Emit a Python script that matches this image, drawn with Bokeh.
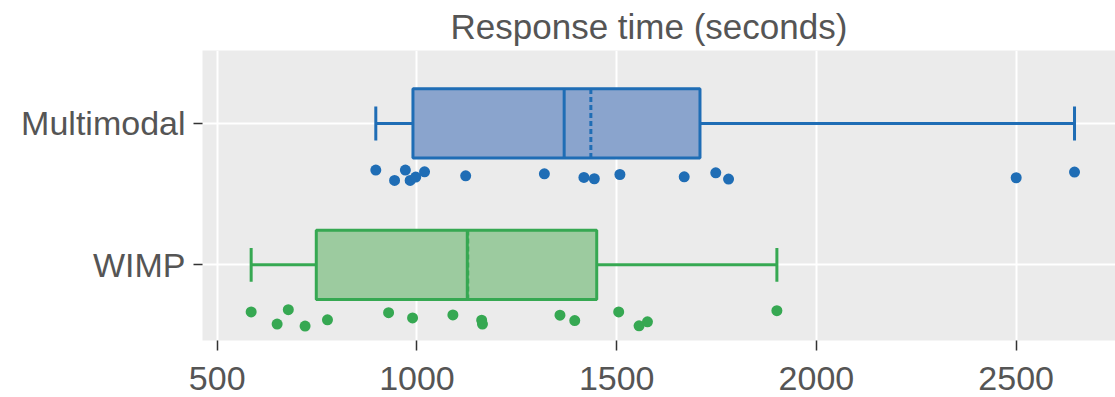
import numpy as np
from bokeh.plotting import figure
from bokeh.models import FixedTicker
from bokeh.embed import file_html
from bokeh.resources import INLINE

# ---------------- data ----------------
categories = ["WIMP", "Multimodal"]
multimodal_times = [897, 944, 971, 983, 997, 1019, 1122, 1319, 1418, 1444,
                    1508, 1669, 1748, 1780, 2500, 2646]
# vertical jitter of each point below its box (category units)
multimodal_jitter = [0.330, 0.403, 0.330, 0.403, 0.379, 0.342, 0.370, 0.356,
                     0.382, 0.391, 0.361, 0.377, 0.349, 0.393, 0.384, 0.344]
wimp_times = [585, 650, 678, 720, 776, 929, 989, 1090, 1162, 1164,
              1358, 1395, 1505, 1556, 1577, 1901]
wimp_jitter = [0.333, 0.419, 0.317, 0.433, 0.389, 0.338, 0.375, 0.354,
               0.391, 0.419, 0.356, 0.394, 0.333, 0.431, 0.403, 0.324]
x_ticks = [500, 1000, 1500, 2000, 2500]
title_text = "Response time (seconds)"

# ---------------- styles ----------------
FONT = "Liberation Sans"
TEXT_COLOR = "#555555"
series = [
    dict(name="WIMP", vals=wimp_times, jit=wimp_jitter,
         line="#36a852", fill="#9ccb9f"),
    dict(name="Multimodal", vals=multimodal_times, jit=multimodal_jitter,
         line="#1f6db5", fill="#8aa4cd"),
]
BOX_HALF = 0.245
CAP_HALF = 0.12


def box_stats(vals):
    v = sorted(vals)
    n = len(v)
    half = n // 2
    lower = v[:half]
    upper = v[half + n % 2:]
    med = float(np.median(v))
    q1 = float(np.median(lower))
    q3 = float(np.median(upper))
    iqr = q3 - q1
    lo = min(x for x in v if x >= q1 - 1.5 * iqr)
    hi = max(x for x in v if x <= q3 + 1.5 * iqr)
    return q1, med, q3, lo, hi, float(np.mean(v))


p = figure(width=1115, height=397, x_range=(463.2, 2748.6), y_range=(-0.535, 1.516),
           output_backend="svg", toolbar_location=None,
           min_border_left=202, min_border_right=0, min_border_top=46,
           min_border_bottom=57)

p.title.text = title_text
p.title.align = "left"
p.title.offset = 248
p.title.text_font = FONT
p.title.text_font_size = "35px"
p.title.text_font_style = "normal"
p.title.text_color = TEXT_COLOR
p.title.standoff = 9

p.background_fill_color = "#ebebeb"
p.border_fill_color = "white"
p.outline_line_color = None

for g in (p.xgrid, p.ygrid):
    g.grid_line_color = "white"
    g.grid_line_width = 2

p.xaxis.ticker = FixedTicker(ticks=x_ticks)
p.yaxis.ticker = FixedTicker(ticks=list(range(len(categories))))
p.yaxis.major_label_overrides = {i: c for i, c in enumerate(categories)}

for ax in (p.xaxis, p.yaxis):
    ax.axis_line_color = None
    ax.major_tick_line_color = "#333333"
    ax.major_tick_line_width = 1.5
    ax.minor_tick_line_color = None
    ax.major_tick_in = 0
    ax.major_label_text_font = FONT
    ax.major_label_text_color = TEXT_COLOR
p.xaxis.major_tick_out = 10
p.xaxis.major_label_standoff = 16
p.xaxis.major_label_text_line_height = 0.8
p.xaxis.major_label_text_font_size = "34px"
p.yaxis.major_tick_out = 9
p.yaxis.major_label_standoff = 8
p.yaxis.major_label_text_font_size = "34px"

for i, s in enumerate(series):
    q1, med, q3, lo, hi, mean = box_stats(s["vals"])
    y = i
    # whiskers
    p.segment(x0=[lo, q3], y0=[y, y], x1=[q1, hi], y1=[y, y],
              line_color=s["line"], line_width=3)
    p.segment(x0=[lo, hi], y0=[y - CAP_HALF] * 2, x1=[lo, hi], y1=[y + CAP_HALF] * 2,
              line_color=s["line"], line_width=3)
    # box
    p.hbar(y=[y], height=2 * BOX_HALF, left=[q1], right=[q3],
           fill_color=s["fill"], line_color=s["line"], line_width=3)
    # median
    p.segment(x0=[med], y0=[y - BOX_HALF], x1=[med], y1=[y + BOX_HALF],
              line_color=s["line"], line_width=3)
    # mean (dashed)
    p.segment(x0=[mean], y0=[y - BOX_HALF], x1=[mean], y1=[y + BOX_HALF],
              line_color=s["line"], line_width=3, line_dash="5 3")
    # points
    p.scatter(x=s["vals"], y=[y - j for j in s["jit"]], size=11,
              fill_color=s["line"], line_color=None)

open("out.html", "w").write(file_html(p, INLINE))
